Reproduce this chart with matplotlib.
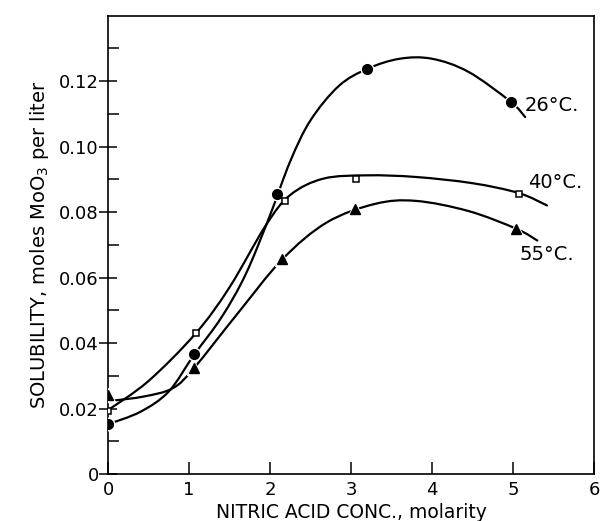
import numpy as np
import matplotlib
matplotlib.use("Agg")
import matplotlib.pyplot as plt
from matplotlib.path import Path
from matplotlib.patches import PathPatch

plt.rcParams['font.family'] = ['DejaVu Sans']

# measured points (molarity, moles MoO3 per liter)
x26 = [0.0, 1.06, 2.09, 3.20, 4.97]
y26 = [0.0152, 0.0365, 0.0855, 0.1238, 0.1137]
x40 = [0.0, 1.085, 2.18, 3.06, 5.07]
y40 = [0.0193, 0.0430, 0.0835, 0.0900, 0.0856]
x55 = [0.0, 1.06, 2.15, 3.05, 5.04]
y55 = [0.0240, 0.0323, 0.0658, 0.0810, 0.0747]

# hand-drawn smooth curves through the points
c26_x = [0.0, 0.40, 0.75, 1.06, 1.40, 1.70, 2.00, 2.25, 2.50, 2.85,
         3.20, 3.60, 4.00, 4.45, 4.97, 5.15]
c26_y = [0.0152, 0.0190, 0.0252, 0.0363, 0.0478, 0.0610, 0.0790, 0.0955, 0.1080,
         0.1185, 0.1237, 0.1268, 0.1268, 0.1228, 0.1137, 0.1090]
c40_x = [0.0, 0.50, 1.085, 1.50, 1.95, 2.25, 2.66, 3.20, 3.80, 4.50, 5.07, 5.42]
c40_y = [0.0195, 0.0284, 0.0430, 0.0570, 0.0760, 0.0852, 0.0902, 0.0912, 0.0907,
         0.0888, 0.0858, 0.0820]
c55_x = [0.06, 0.45, 0.80, 1.06, 1.60, 2.15, 2.70, 3.30, 3.80, 4.45, 5.04, 5.30]
c55_y = [0.0224, 0.0237, 0.0262, 0.0323, 0.0490, 0.0655, 0.0768, 0.0825, 0.0834,
         0.0803, 0.0749, 0.0713]

labels = ["26°C.", "40°C.", "55°C."]
label_x = [5.14, 5.18, 5.08]
label_y = [0.1125, 0.0890, 0.0670]

xticks = [0, 1, 2, 3, 4, 5, 6]
yticks = [0, 0.02, 0.04, 0.06, 0.08, 0.10, 0.12]
yticklabels = ["0", "0.02", "0.04", "0.06", "0.08", "0.10", "0.12"]


def smooth_path(xs, ys):
    # Catmull-Rom through the points, written as cubic Bezier segments
    p = np.column_stack([xs, ys])
    p = np.vstack([p[0], p, p[-1]])
    verts = [p[1]]
    codes = [Path.MOVETO]
    for i in range(1, len(p) - 2):
        c1 = p[i] + (p[i + 1] - p[i - 1]) / 6
        c2 = p[i + 1] - (p[i + 2] - p[i]) / 6
        verts += [c1, c2, p[i + 1]]
        codes += [Path.CURVE4] * 3
    return Path(verts, codes)


fig = plt.figure(figsize=(6.0, 5.21), dpi=100)
ax = fig.add_axes([0.18, 0.0902, 0.81, 0.880])
ax.set_xlim(0, 6)
ax.set_ylim(0, 0.14)

for cx, cy in [(c26_x, c26_y), (c40_x, c40_y), (c55_x, c55_y)]:
    ax.add_patch(PathPatch(smooth_path(cx, cy), fill=False, lw=1.6,
                           ec='black', capstyle='round', zorder=2))

# white halo so lines break a little around the solid marks
ax.plot(x26, y26, 'o', ms=9, color='white', zorder=3)
ax.plot(x55, y55, '^', ms=10, color='white', zorder=3)
ax.plot(x26, y26, 'o', ms=7, color='black', zorder=4)
ax.plot(x40, y40, 's', ms=5, mfc='white', mec='black', mew=1.1, zorder=4)
ax.plot(x55, y55, '^', ms=7.5, color='black', zorder=4)

for t, lx, ly in zip(labels, label_x, label_y):
    ax.text(lx, ly, t, fontsize=14, va='center', ha='left')

ax.set_xticks(xticks)
ax.set_yticks(yticks)
ax.set_yticklabels(yticklabels)
ax.set_yticks(np.arange(0.01, 0.14, 0.02), minor=True)
ax.tick_params(axis='y', which='major', direction='inout', length=13,
               width=1.1, pad=0, labelsize=13)
ax.tick_params(axis='y', which='minor', direction='in', length=8, width=1.1)
ax.tick_params(axis='x', which='major', direction='in', length=8.5,
               width=1.1, pad=5, labelsize=13)
for s in ax.spines.values():
    s.set_linewidth(1.2)

ax.set_xlabel("NITRIC ACID CONC., molarity", fontsize=13.5, labelpad=3)
ax.set_ylabel("SOLUBILITY, moles MoO$_3$ per liter", fontsize=14, labelpad=6)

fig.savefig("out.png", dpi=100)
